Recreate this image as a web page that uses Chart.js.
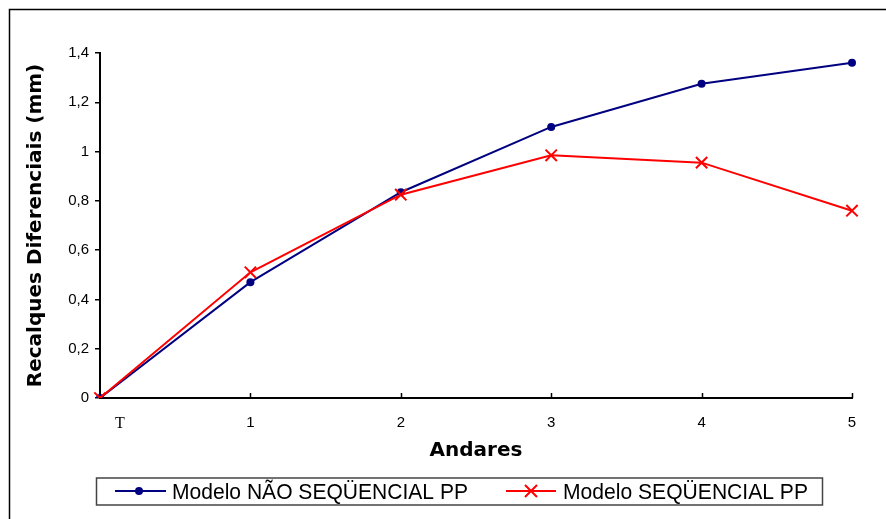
<!DOCTYPE html>
<html>
<head>
<meta charset="utf-8">
<script src="https://cdn.jsdelivr.net/npm/chart.js@4.4.0/dist/chart.umd.min.js"></script>
<style>
  body { margin: 0; background: #fff; }
  canvas { display: block; }
</style>
</head>
<body>
<canvas id="recalques" width="886" height="519"></canvas>
<script>
// Andares (T = terreo) e recalques diferenciais em mm
var andares = ['T', '1', '2', '3', '4', '5'];
var naoSequencial = [0, 0.47, 0.835, 1.10, 1.275, 1.36];
var sequencial = [0, 0.51, 0.825, 0.985, 0.955, 0.76];
var yTickLabels = ['0', '0,2', '0,4', '0,6', '0,8', '1', '1,2', '1,4'];

var serieNao = 'Modelo NÃO SEQÜENCIAL PP';
var serieSeq = 'Modelo SEQÜENCIAL PP';
var azul = '#000080';
var vermelho = '#ff0000';

// moldura, ticks internos do eixo x e legenda com linha + marcador
var extras = {
    id: 'extras',
    beforeDraw: function (chart) {
        var c = chart.ctx;
        c.save();
        c.strokeStyle = '#000';
        c.lineWidth = 1.5;
        c.beginPath();
        c.moveTo(9.5, 519);
        c.lineTo(9.5, 9.5);
        c.lineTo(886, 9.5);
        c.stroke();
        c.restore();
    },
    afterDraw: function (chart) {
        var c = chart.ctx;
        var x = chart.scales.x;
        c.save();
        c.strokeStyle = '#000';
        c.lineWidth = 1.5;
        for (var i = 1; i < andares.length; i++) {
            var px = Math.round(x.getPixelForTick(i)) + 0.5;
            c.beginPath();
            c.moveTo(px, x.top);
            c.lineTo(px, x.top - 5);
            c.stroke();
        }

        // caixa da legenda
        c.strokeStyle = '#444';
        c.lineWidth = 1.5;
        c.strokeRect(96.5, 478, 726, 27);

        var ly = 491;
        c.lineWidth = 2;
        // serie 1: linha azul com ponto
        c.strokeStyle = azul;
        c.beginPath();
        c.moveTo(115, ly);
        c.lineTo(166, ly);
        c.stroke();
        c.fillStyle = azul;
        c.beginPath();
        c.arc(139, ly, 4, 0, Math.PI * 2);
        c.fill();
        // serie 2: linha vermelha com x
        c.strokeStyle = vermelho;
        c.beginPath();
        c.moveTo(506, ly);
        c.lineTo(556, ly);
        c.moveTo(525, ly - 6);
        c.lineTo(537, ly + 6);
        c.moveTo(525, ly + 6);
        c.lineTo(537, ly - 6);
        c.stroke();

        c.fillStyle = '#000';
        c.font = '22px "Liberation Sans", Arial, sans-serif';
        c.textBaseline = 'alphabetic';
        c.textAlign = 'left';
        c.fillText(serieNao, 172, 499, 296);
        c.fillText(serieSeq, 563, 499, 245);
        c.restore();
    }
};

var ctx = document.getElementById('recalques').getContext('2d');
var chart = new Chart(ctx, {
    type: 'line',
    data: {
        labels: andares,
        datasets: [{
            label: serieNao,
            data: naoSequencial,
            borderColor: azul,
            backgroundColor: azul,
            borderWidth: 2,
            pointStyle: 'circle',
            pointRadius: 4,
            pointBorderWidth: 0,
            order: 2
        }, {
            label: serieSeq,
            data: sequencial,
            borderColor: vermelho,
            backgroundColor: vermelho,
            borderWidth: 2,
            pointStyle: 'crossRot',
            pointRadius: 8,
            pointBorderWidth: 2,
            order: 1
        }]
    },
    options: {
        responsive: false,
        animation: false,
        layout: { padding: { left: 24, right: 34, top: 53, bottom: 56 } },
        plugins: {
            legend: { display: false },
            tooltip: { enabled: false }
        },
        scales: {
            x: {
                type: 'category',
                offset: false,
                grid: { display: false, drawTicks: false },
                border: { display: true, color: '#000', width: 2 },
                ticks: {
                    padding: 16,
                    maxRotation: 0,
                    color: '#000',
                    font: function (c) {
                        return c.index === 0
                            ? { family: '"Liberation Serif", "Times New Roman", serif', size: 16 }
                            : { family: '"Liberation Sans", Arial, sans-serif', size: 15 };
                    },
                    callback: function (v, i) {
                        return i === 0 ? '          ' + andares[i] : andares[i];
                    }
                },
                title: {
                    display: true,
                    text: 'Andares',
                    color: '#000',
                    padding: 0,
                    font: { family: '"DejaVu Sans", Verdana, sans-serif', size: 20, weight: 'bold' }
                },
                afterFit: function (s) { s.height = 65; }
            },
            y: {
                min: 0,
                max: 1.4,
                grid: { drawOnChartArea: false, drawTicks: true, tickLength: 5, color: '#000', lineWidth: 1.5 },
                border: { display: true, color: '#000', width: 2 },
                ticks: {
                    stepSize: 0.2,
                    padding: 6,
                    color: '#000',
                    font: { family: '"Liberation Sans", Arial, sans-serif', size: 15 },
                    callback: function (v, i) { return yTickLabels[i]; }
                },
                title: {
                    display: true,
                    text: 'Recalques Diferenciais (mm)',
                    color: '#000',
                    padding: 0,
                    font: { family: '"DejaVu Sans", Verdana, sans-serif', size: 20, weight: 'bold' }
                },
                afterFit: function (s) { s.width = 76; }
            }
        }
    },
    plugins: [extras]
});
</script>
</body>
</html>
